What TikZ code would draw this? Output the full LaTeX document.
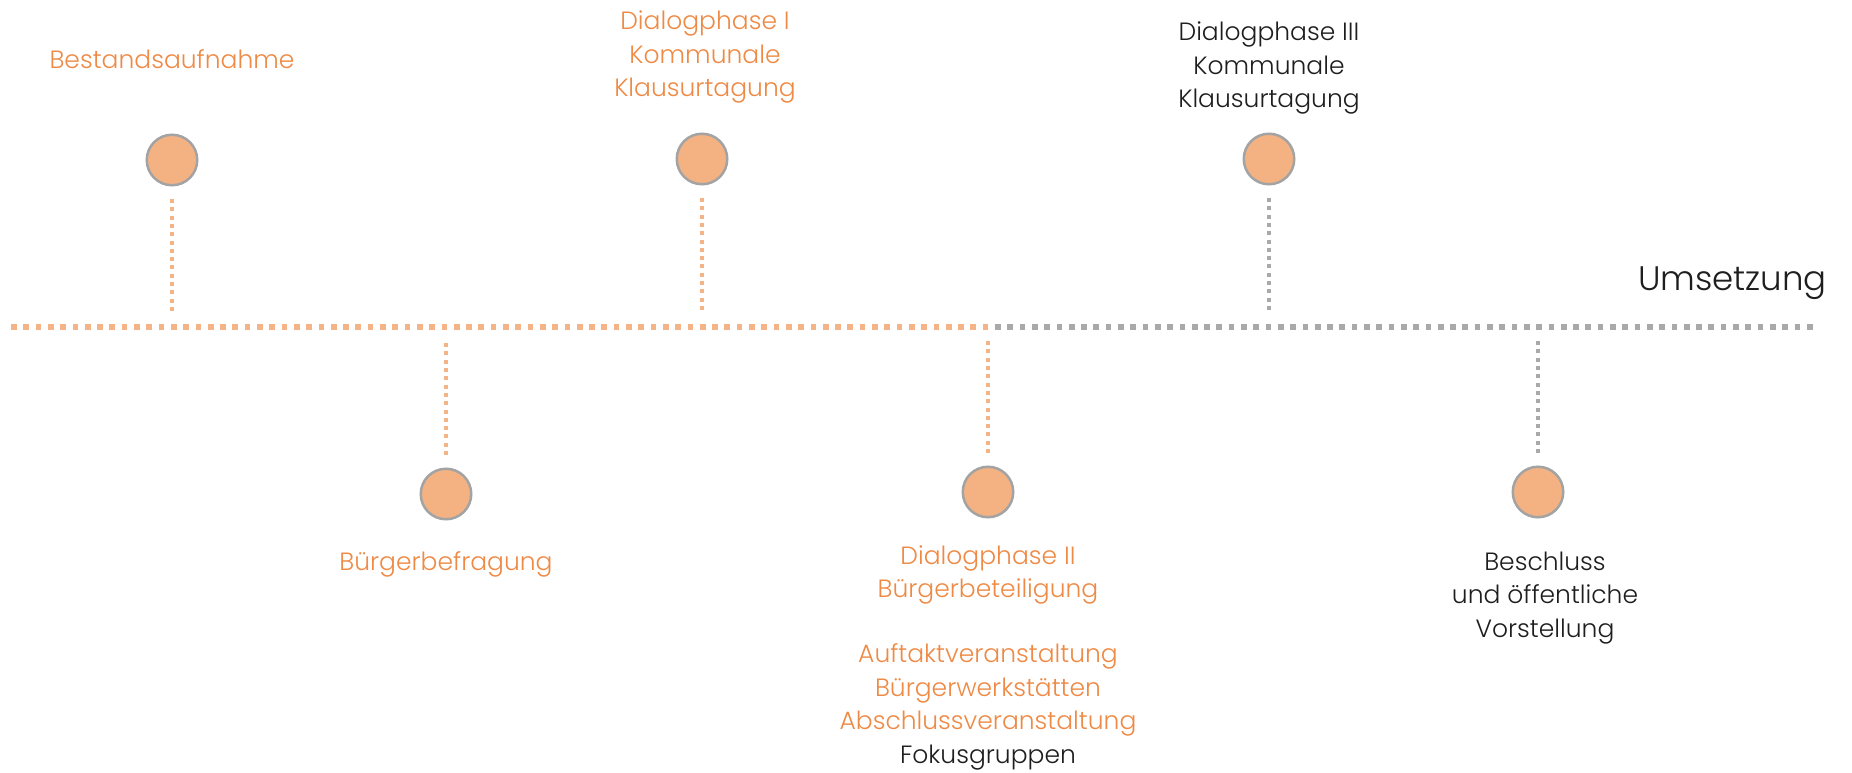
\documentclass[tikz,border=0pt]{standalone}
\usepackage{fontspec}
\IfFontExistsTF{Poppins Light}{\setmainfont{Poppins Light}}{\setmainfont{Poppins}}
\definecolor{dotfill}{HTML}{F4B283}
\definecolor{ringgray}{HTML}{A3A3A3}
\definecolor{lineorange}{HTML}{F5B487}
\definecolor{linegray}{HTML}{A9A9A9}
\definecolor{txtorange}{HTML}{EE8A45}
\definecolor{txtblack}{HTML}{1E1E1E}
\begin{document}
\begin{tikzpicture}[x=1pt,y=-1pt,
  dot/.style={circle,inner sep=0pt,minimum size=50.5pt,fill=dotfill,draw=ringgray,line width=2.5pt},
  hlineO/.style={draw=lineorange,line width=5.7pt,dash pattern=on 5.7pt off 6.6pt},
  hlineG/.style={draw=linegray,line width=5.7pt,dash pattern=on 5.7pt off 6.6pt},
  vlineO/.style={draw=lineorange,line width=4.3pt,dash pattern=on 4pt off 4.3pt},
  vlineG/.style={draw=linegray,line width=4.3pt,dash pattern=on 4pt off 4.3pt},
  lbl/.style={align=center,font=\fontsize{25}{33.5}\selectfont,inner sep=0pt,anchor=base},
  olbl/.style={lbl,text=txtorange},
  blbl/.style={lbl,text=txtblack}
]
\useasboundingbox (0,0) rectangle (1852,773);
% main timeline
\coordinate (hs) at (11,327);
\coordinate (hm) at (989.5,327);
\coordinate (hg) at (995,327);
\coordinate (he) at (1816,327);
\draw[hlineO] (hs) -- (hm);
\draw[hlineG] (hg) -- (he);
% circles
\node[dot] (c1) at (172,160) {};
\node[dot] (c2) at (702,159) {};
\node[dot] (c3) at (1269,159) {};
\node[dot] (c4) at (446,494) {};
\node[dot] (c5) at (988,492) {};
\node[dot] (c6) at (1538,492) {};
% connector end points on the timeline
\coordinate (m1) at (172,312);
\coordinate (m2) at (702,312);
\coordinate (m3) at (1269,312);
\coordinate (m4) at (446,343);
\coordinate (m5) at (988,341);
\coordinate (m6) at (1538,341);
\draw[vlineO] ([yshift=-12.5pt]c1.south) -- (m1);
\draw[vlineO] ([yshift=-12.5pt]c2.south) -- (m2);
\draw[vlineG] ([yshift=-12.5pt]c3.south) -- (m3);
\draw[vlineO] ([yshift=12.5pt]c4.north) -- (m4);
\draw[vlineO] ([yshift=12.5pt]c5.north) -- (m5);
\draw[vlineG] ([yshift=12.5pt]c6.north) -- (m6);
% labels (base = baseline of the last line)
\node[olbl] (l1) at (172,69) {Bestandsaufnahme};
\node[olbl] (l2) at (705,97) {Dialogphase I\\Kommunale\\Klausurtagung};
\node[blbl] (l3) at (1269,108) {Dialogphase III\\Kommunale\\Klausurtagung};
\node[olbl] (l4) at (446,570) {Bürgerbefragung};
\node[olbl] (l5) at (988,763) {Dialogphase II\\Bürgerbeteiligung\\[31.5pt]Auftaktveranstaltung\\Bürgerwerkstätten\\Abschlussveranstaltung\\\textcolor{txtblack}{Fokusgruppen}};
\node[blbl] (l6) at (1545,637) {Beschluss\\und öffentliche\\Vorstellung};
\node[blbl,font=\fontsize{34}{42}\selectfont,anchor=base east] (u) at (1827,290) {Umsetzung};
\end{tikzpicture}
\end{document}
